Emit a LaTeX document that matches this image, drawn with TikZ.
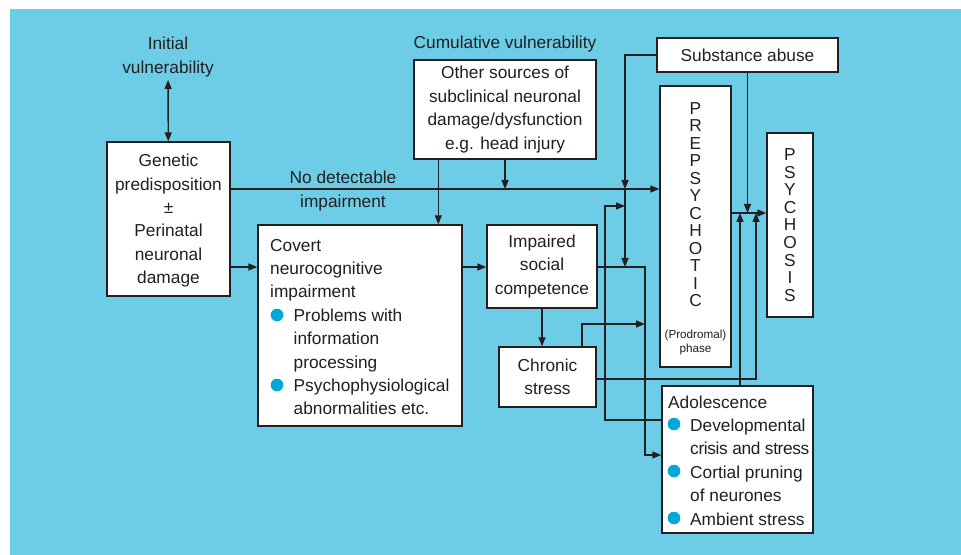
\documentclass[tikz,border=0pt]{standalone}
\usepackage{fontspec}
\setmainfont{Liberation Sans}
\usetikzlibrary{arrows.meta}
\definecolor{panel}{HTML}{6DCCE6}
\definecolor{ink}{HTML}{231F20}
\definecolor{dotblue}{HTML}{00A8D6}
\tikzset{>={Triangle[length=9bp,width=7bp]},lbl/.style={text=ink,align=center,inner sep=0pt,font=\fontsize{17.3bp}{23.4bp}\selectfont},box/.style={lbl,draw=ink,line width=1.4bp,fill=white},arr/.style={->,line width=1.4bp,ink},dot/.style={fill=dotblue}}
\begin{document}
\begin{tikzpicture}[x=1bp,y=-1bp]
\useasboundingbox (0,0) rectangle (961,555);
\fill[panel] (10,9) rectangle (961,555);
% boxes
\node[box,minimum width=123bp,minimum height=154bp,text depth=-1.5bp] (gen) at (168.5,219) {Genetic\\predisposition\\±\\Perinatal\\neuronal\\damage};
\node[box,minimum width=182bp,minimum height=99bp] (oth) at (505,109.5) {Other sources of\\subclinical neuronal\\damage/dysfunction\\e.g. head injury};
\node[box,minimum width=204bp,minimum height=201bp] (cov) at (360,325.5) {};
\node[box,minimum width=110bp,minimum height=83bp] (imp) at (542,266.5) {Impaired\\social\\competence};
\node[box,minimum width=97bp,minimum height=60bp] (chr) at (547.5,377) {Chronic\\stress};
\node[box,minimum width=181bp,minimum height=34bp] (sub) at (747.5,55) {Substance abuse};
\node[box,minimum width=71bp,minimum height=281bp] (pre) at (695.5,226.5) {};
\node[box,minimum width=46bp,minimum height=184bp,font=\fontsize{17.3bp}{17.6bp}\selectfont] (psy) at (790,225) {P\\S\\Y\\C\\H\\O\\S\\I\\S};
\node[box,minimum width=151bp,minimum height=147bp] (ado) at (737.5,459.5) {};
% texts
\node[lbl] (ini) at (168,57) {Initial\\vulnerability};
\node[lbl] (cum) at (505,44) {Cumulative vulnerability};
\node[lbl,font=\fontsize{17.3bp}{24.5bp}\selectfont] (nodet) at (343,191) {No detectable\\impairment};
\node[lbl,font=\fontsize{17.3bp}{17.5bp}\selectfont] (pretxt) at (695.5,204.5) {P\\R\\E\\P\\S\\Y\\C\\H\\O\\T\\I\\C};
\node[lbl,font=\fontsize{11.7bp}{14bp}\selectfont] (prod) at (695.5,342) {(Prodromal)\\phase};
\node[lbl,align=left,anchor=west] (covtxt) at (270,327) {Covert\\neurocognitive\\impairment\\\hspace*{23.5bp}Problems with\\\hspace*{23.5bp}information\\\hspace*{23.5bp}processing\\\hspace*{23.5bp}Psychophysiological\\\hspace*{23.5bp}abnormalities etc.};
\node[lbl,align=left,anchor=west] (adotxt) at (668,460.5) {Adolescence\\\hspace*{22bp}Developmental\\\hspace*{22bp}{\addfontfeature{LetterSpace=-2}crisis and stress}\\\hspace*{22bp}Cortial pruning\\\hspace*{22bp}of neurones\\\hspace*{22bp}Ambient stress};
\foreach \y in {315,385}{\fill[dot] (277,\y) circle(6.3bp);}
\foreach \y in {424,471,518}{\fill[dot] (674,\y) circle(6.3bp);}
% junctions
\coordinate (o1) at ([xshift=25bp]oth.south west);
\coordinate (xa) at (605,206);\coordinate (xa2) at (605,420);
\coordinate (xb) at (625,267);\coordinate (xc) at (645,455);
\coordinate (cs) at (582,324);\coordinate (ct) at (756,379);\coordinate (pp) at (740,213);\coordinate (ln) at (0,189);
% connectors
\draw[<->,line width=1.4bp,ink,shorten <=3bp] (ini) -- (gen);
\draw[arr] (gen.east |- ln) -- (pre.west |- ln);
\draw[arr] (oth.south) -- (oth.south |- ln);
\draw[arr] (o1) -- (o1 |- cov.north);
\draw[arr] (gen.east |- xb) -- (cov.west |- xb);
\draw[arr] (cov.east |- xb) -- (imp.west |- xb);
\draw[arr] (imp.south) -- (imp.south |- chr.north);
\draw[arr] (sub.west) -| (xb |- ln);\draw[arr] (xb |- ln) -- (xb);
\draw[arr] (imp.east |- xb) -| (xc) -- (xc -| ado.west);
\draw[arr] (xa2 -| ado.west) -- (xa2) -- (xa) -- (xa -| xb);
\draw[arr] (cs |- chr.north) -- (cs) -- (cs -| xc);
\draw[arr] (chr.east |- ct) -- (ct) -- (ct |- pp);
\draw[arr] (pp |- ado.north) -- (pp);
\draw[arr] (sub.south) -- (sub.south |- pp);
\draw[arr] (pre.east |- pp) -- (psy.west |- pp);
\end{tikzpicture}
\end{document}
